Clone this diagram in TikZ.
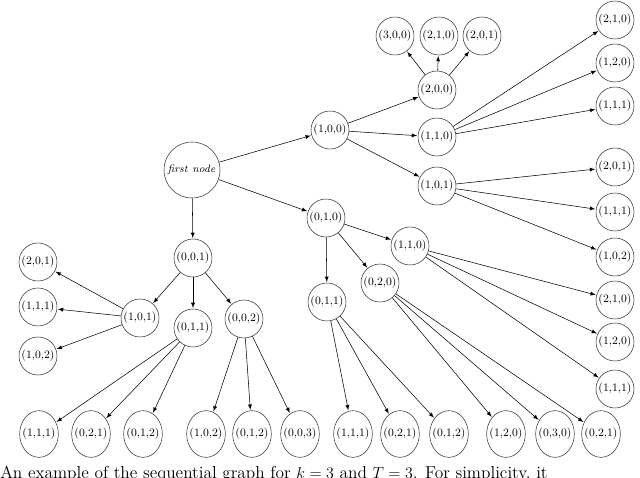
\documentclass[tikz,border=0pt]{standalone}
\usetikzlibrary{shapes.geometric}
\begin{document}
\begin{tikzpicture}[x=0.75pt,y=-0.75pt,
  st/.style={circle,draw=black!80,thin,minimum size=28.5pt,inner sep=0pt,font=\fontsize{8.5}{10}\selectfont},
  bt/.style={ellipse,draw=black!80,thin,minimum width=29pt,minimum height=35pt,inner xsep=-2.5pt,inner ysep=0pt,font=\fontsize{8.5}{10}\selectfont},
  ar/.style={-latex,thin,shorten >=0.5pt}]
\useasboundingbox (0,0) rectangle (640,478);
\clip (0,0) rectangle (640,478);
\node[st,minimum size=42pt] (f) at (192,170) {$\mathit{first\ node}$};
\node[st] (a) at (330,130) {(1,0,0)};
\node[st] (a1) at (437,90) {(2,0,0)};
\node[st] (a2) at (437,137) {(1,1,0)};
\node[st] (a3) at (437,186) {(1,0,1)};
\node[st] (a11) at (395,36) {(3,0,0)};
\node[st] (a12) at (439,36) {(2,1,0)};
\node[st] (a13) at (482,36) {(2,0,1)};
\node[st] (r1) at (615,20) {(2,1,0)};
\node[st] (r2) at (615,63) {(1,2,0)};
\node[st] (r3) at (615,106) {(1,1,1)};
\node[st] (r4) at (615,167) {(2,0,1)};
\node[st] (r5) at (615,212) {(1,1,1)};
\node[st] (r6) at (615,257) {(1,0,2)};
\node[st] (r7) at (615,300) {(2,1,0)};
\node[st] (r8) at (615,342) {(1,2,0)};
\node[st] (r9) at (615,389) {(1,1,1)};
\node[st] (b) at (326,218) {(0,1,0)};
\node[st] (b1) at (410,246) {(1,1,0)};
\node[st] (b2) at (380,283) {(0,2,0)};
\node[st] (b3) at (327,302) {(0,1,1)};
\node[st] (c) at (193,258) {(0,0,1)};
\node[st] (c1) at (140,318) {(1,0,1)};
\node[st] (c2) at (193,328) {(0,1,1)};
\node[st] (c3) at (244,319) {(0,0,2)};
\node[st] (l1) at (38,262) {(2,0,1)};
\node[st] (l2) at (38,307) {(1,1,1)};
\node[st] (l3) at (38,356) {(1,0,2)};
\foreach \n/\x/\t in {d1/39/{(1,1,1)},d2/91/{(0,2,1)},d3/143/{(0,1,2)},d4/206/{(1,0,2)},d5/252/{(0,1,2)},d6/300/{(0,0,3)},d7/353/{(1,1,1)},d8/400/{(0,2,1)},d9/449/{(0,1,2)},d10/506/{(1,2,0)},d11/555/{(0,3,0)},d12/601/{(0,2,1)}}
  \node[bt] (\n) at (\x,434) {\t};
\foreach \p/\c in {f/a,f/b,f/c,a/a1,a/a2,a/a3,a1/a11,a1/a12,a1/a13,a2/r1,a2/r2,a2/r3,a3/r4,a3/r5,a3/r6,b/b1,b/b2,b/b3,b1/r7,b1/r8,b1/r9,b2/d10,b2/d11,b2/d12,b3/d7,b3/d8,b3/d9,c/c1,c/c2,c/c3,c1/l1,c1/l2,c1/l3,c2/d1,c2/d2,c2/d3,c3/d4,c3/d5,c3/d6}
  \draw[ar] (\p) -- (\c);
\node[anchor=north west,inner sep=0pt,font=\fontsize{13}{15}\selectfont] (cap) at (0,466) {An example of the sequential graph for $k=3$ and $T=3$. For simplicity, it};
\end{tikzpicture}
\end{document}
